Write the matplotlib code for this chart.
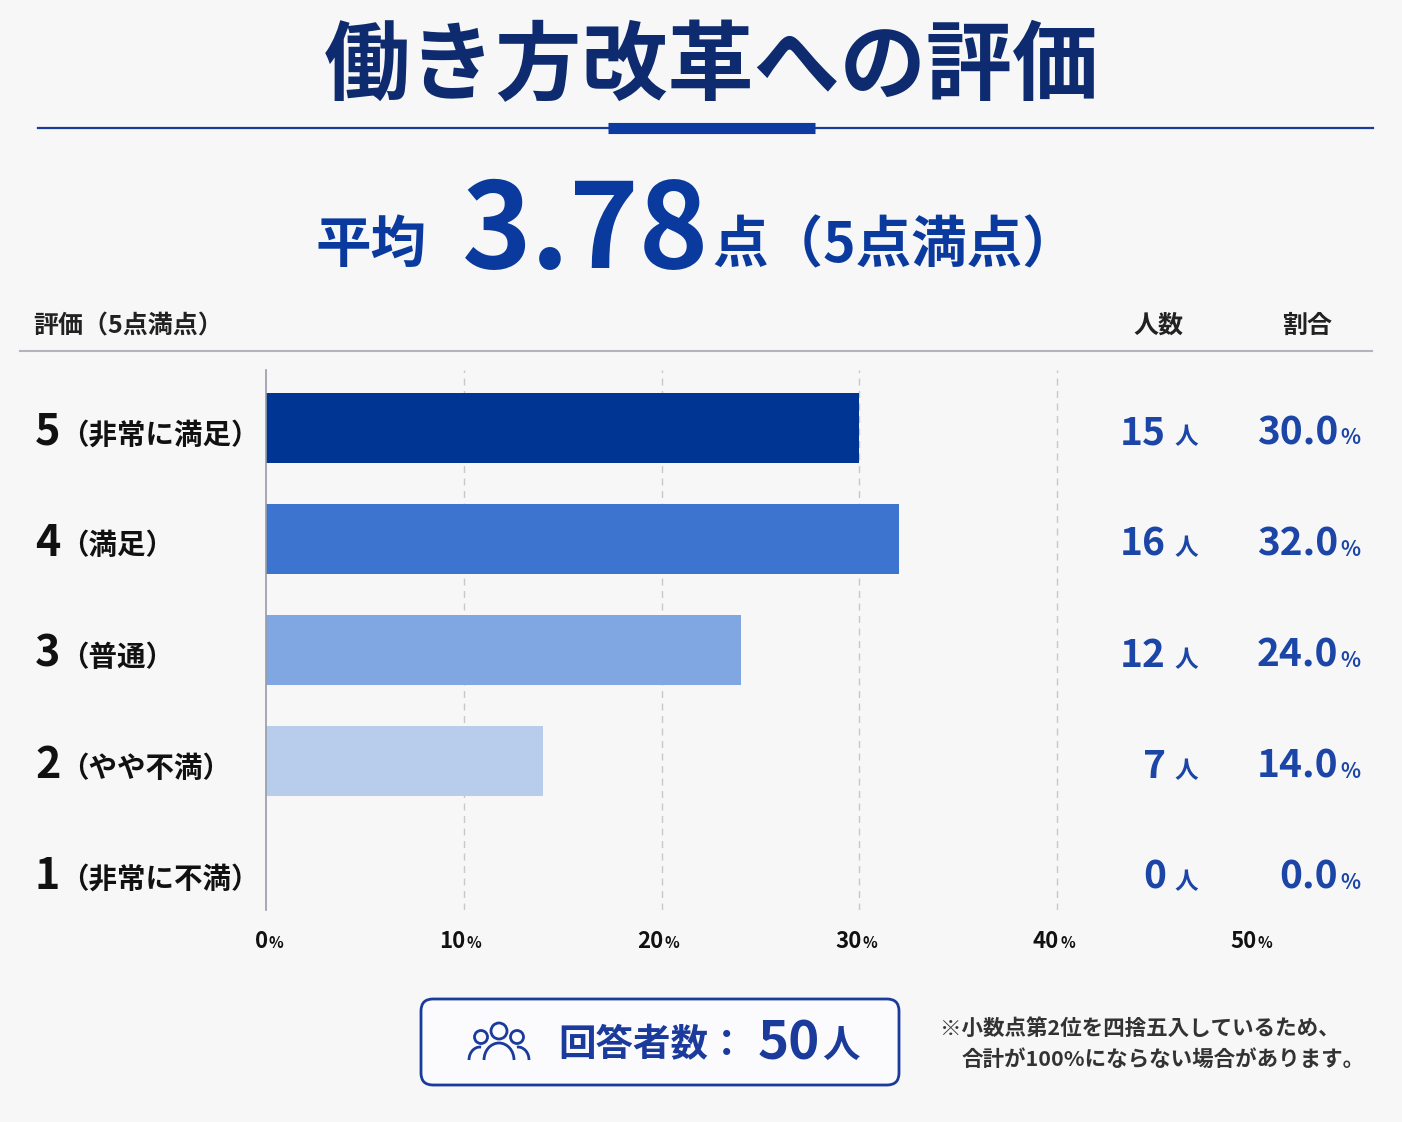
import matplotlib
matplotlib.use("Agg")
import matplotlib.pyplot as plt
from matplotlib.transforms import blended_transform_factory
from matplotlib.patches import FancyBboxPatch, Circle, Arc

JP = "Noto Sans CJK JP"
plt.rcParams["font.family"] = [JP, "DejaVu Sans"]

# data
scores = ["5", "4", "3", "2", "1"]
labels = ["（非常に満足）", "（満足）", "（普通）", "（やや不満）", "（非常に不満）"]
counts = [15, 16, 12, 7, 0]
shares = [30.0, 32.0, 24.0, 14.0, 0.0]
bar_colors = ["#003594", "#3d74d0", "#80a7e1", "#b8cdec", "#dde6f5"]
xticks = [0, 10, 20, 30, 40, 50]
total = 50
mean_score = 3.78

NAVY = "#0d2b6e"
BLUE = "#0b3a9e"
VAL = "#1b45a6"
BG = "#f7f7f8"

W, H = 1402, 1122
fig = plt.figure(figsize=(W / 100, H / 100), dpi=100, facecolor=BG)

# overlay in pixel coordinates
ov = fig.add_axes([0, 0, 1, 1], zorder=0)
ov.set_xlim(0, W)
ov.set_ylim(H, 0)
ov.axis("off")

# chart area
x0, x1, y0, y1 = 266, 1255, 370, 910
ax = fig.add_axes([x0 / W, 1 - y1 / H, (x1 - x0) / W, (y1 - y0) / H], zorder=1)
ax.set_facecolor("none")
pos = list(range(len(scores)))
ax.barh(pos, shares, height=0.63, color=bar_colors, zorder=2)
ax.set_xlim(0, 50)
ax.set_ylim(4.34, -0.52)
for t in xticks[1:-1]:
    ax.axvline(t, color="#c8c8cc", lw=1, ls=(0, (5, 4)), zorder=1)
for s in ["top", "right", "bottom"]:
    ax.spines[s].set_visible(False)
ax.spines["left"].set_color("#9a9aa8")
ax.spines["left"].set_linewidth(1.2)
ax.set_xticks([])
ax.set_yticks([])

# title
ov.text(711, 68, "働き方改革への評価", ha="center", va="center", fontsize=62,
        fontweight="bold", color=NAVY)
ov.plot([38, 1373], [128, 128], color="#1a3a9c", lw=1.6)
ov.plot([608, 815], [128, 128], color="#0d3aa0", lw=8, solid_capstyle="butt")

# average
ov.text(315, 262, "平均", ha="left", va="baseline", fontsize=40, fontweight="bold", color=BLUE)
ov.text(462, 268, f"{mean_score:.2f}", ha="left", va="baseline", fontsize=85,
        fontweight="bold", color=BLUE)
ov.text(712, 262, "点（5点満点）", ha="left", va="baseline", fontsize=40,
        fontweight="bold", color=BLUE)

# header
ov.text(33, 326, "評価（5点満点）", ha="left", va="center", fontsize=18, fontweight="bold", color="#222222")
ov.text(1158, 326, "人数", ha="center", va="center", fontsize=18, fontweight="bold", color="#222222")
ov.text(1307, 326, "割合", ha="center", va="center", fontsize=18, fontweight="bold", color="#222222")
ov.plot([20, 1372], [351, 351], color="#b4b4bc", lw=1.5)

# row labels and values
rowT = blended_transform_factory(ov.transData, ax.transData)
for i in pos:
    yb = i + 0.15
    ov.text(35, yb, scores[i], transform=rowT, ha="left", va="baseline", fontsize=31,
            fontweight="bold", color="#111111")
    ov.text(60, yb - 0.01, labels[i], transform=rowT, ha="left", va="baseline", fontsize=20.5,
            fontweight="bold", color="#111111")
    ov.text(1166, yb, str(counts[i]), transform=rowT, ha="right", va="baseline", fontsize=28,
            fontweight="bold", color=VAL)
    ov.text(1174, yb, "人", transform=rowT, ha="left", va="baseline", fontsize=17,
            fontweight="bold", color=VAL)
    ov.text(1338, yb, f"{shares[i]:.1f}", transform=rowT, ha="right", va="baseline", fontsize=28,
            fontweight="bold", color=VAL)
    ov.text(1340, yb, "%", transform=rowT, ha="left", va="baseline", fontsize=15,
            fontweight="bold", color=VAL)

# x tick labels
tickT = blended_transform_factory(ax.transData, ov.transData)
for t in xticks:
    ov.text(t + 0.1, 948, str(t), transform=tickT, ha="right", va="baseline", fontsize=16,
            fontweight="bold", color="#111111")
    ov.text(t + 0.15, 948, "%", transform=tickT, ha="left", va="baseline", fontsize=11,
            fontweight="bold", color="#111111")

# respondents box
ov.add_patch(FancyBboxPatch((421, 999), 478, 86, boxstyle="round,pad=0,rounding_size=12",
                            fc="#fbfbfd", ec="#1a3a9c", lw=2))
ic = "#1a3a9c"
ov.add_patch(Circle((499, 1031), 8, fill=False, ec=ic, lw=2))
ov.add_patch(Arc((499, 1060), 30, 34, theta1=180, theta2=360, ec=ic, lw=2))
for cx in (481, 517):
    ov.add_patch(Circle((cx, 1037), 6.5, fill=False, ec=ic, lw=2))
ov.add_patch(Arc((480, 1060), 22, 26, theta1=180, theta2=275, ec=ic, lw=2))
ov.add_patch(Arc((518, 1060), 22, 26, theta1=265, theta2=360, ec=ic, lw=2))
ov.text(558, 1056, "回答者数：", ha="left", va="baseline", fontsize=27, fontweight="bold", color=ic)
ov.text(758, 1060, str(total), ha="left", va="baseline", fontsize=38, fontweight="bold", color=ic)
ov.text(822, 1058, "人", ha="left", va="baseline", fontsize=27, fontweight="bold", color=ic)

# note
ov.text(940, 1028, "※小数点第2位を四捨五入しているため、", ha="left", va="center", fontsize=15.5,
        fontweight="bold", color="#333333")
ov.text(962, 1059, "合計が100%にならない場合があります。", ha="left", va="center", fontsize=15.5,
        fontweight="bold", color="#333333")

fig.savefig("out.png", dpi=100, facecolor=BG)
